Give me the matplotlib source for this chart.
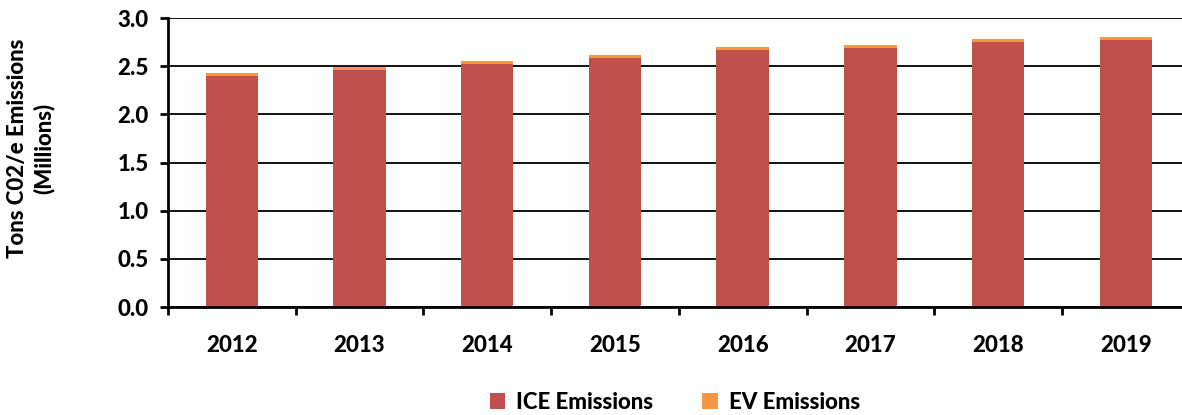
import matplotlib.pyplot as plt
import numpy as np

plt.rcParams['font.family'] = ['Lato', 'DejaVu Sans']
plt.rcParams['font.weight'] = 'bold'

years = ['2012', '2013', '2014', '2015', '2016', '2017', '2018', '2019']
ice = [2.400, 2.464, 2.525, 2.589, 2.672, 2.693, 2.755, 2.776]
ev = [0.027, 0.025, 0.025, 0.028, 0.025, 0.024, 0.025, 0.024]

fig = plt.figure(figsize=(11.82, 4.15), dpi=100)
ax = fig.add_axes([168 / 1182, 108 / 415, 1021.6 / 1182, 289 / 415])

x = np.arange(len(years))
ax.bar(x, ice, width=0.41, color='#C0504D', label='ICE Emissions', zorder=3)
ax.bar(x, ev, width=0.41, bottom=ice, color='#F79646', label='EV Emissions', zorder=3)

fs = 16
ax.set_xlim(-0.5, len(years) - 0.5)
ax.set_ylim(0, 3.0)
ax.set_yticks(np.arange(0, 3.01, 0.5))
ax.set_yticklabels([f'{v:.1f}' for v in np.arange(0, 3.01, 0.5)], fontsize=fs, fontweight='black')
ax.set_xticks(x)
ax.set_xticklabels(years, fontsize=fs, fontweight='black')
ax.set_xticks(np.arange(-0.5, len(years), 1), minor=True)
ax.tick_params(axis='x', which='major', length=0, pad=20)
ax.tick_params(axis='x', which='minor', length=6, width=2, direction='out')
ax.tick_params(axis='y', length=6, width=2, direction='out', pad=8)

ax.yaxis.grid(True, color='black', linewidth=1.3, zorder=0)
ax.set_axisbelow(True)
for s in ['top', 'right']:
    ax.spines[s].set_visible(False)
for s in ['left', 'bottom']:
    ax.spines[s].set_linewidth(2)
    ax.spines[s].set_zorder(4)

fig.text(18 / 1182, 1 - 148 / 415, 'Tons C02/e Emissions', rotation=90, ha='center', va='center',
         fontsize=fs, fontweight='black')
fig.text(44 / 1182, 1 - 148 / 415, '(Millions)', rotation=90, ha='center', va='center',
         fontsize=fs, fontweight='black')

fig.legend(loc='center', bbox_to_anchor=(675 / 1182, 13 / 415), ncol=2, frameon=False,
           prop={'size': fs, 'weight': 'black'}, handlelength=0.7, handleheight=0.7,
           columnspacing=2.2, handletextpad=0.5)

fig.savefig('out.png', dpi=100)
